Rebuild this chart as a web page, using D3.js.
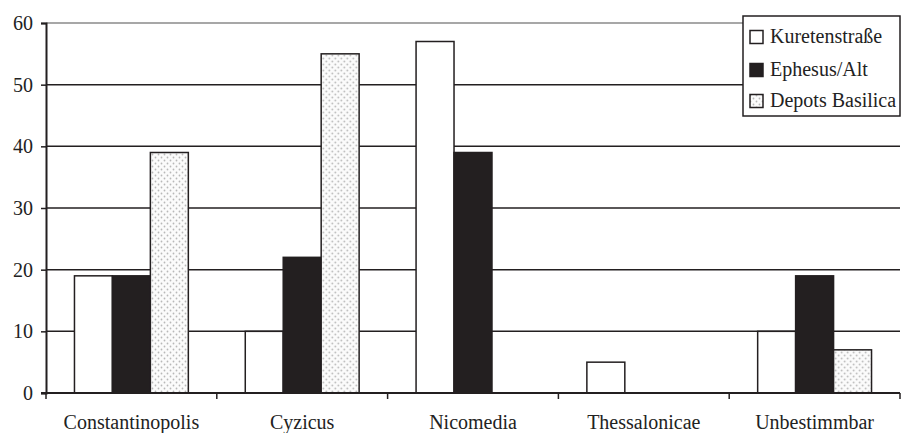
<!DOCTYPE html>
<html>
<head>
<meta charset="utf-8">
<script src="https://cdn.jsdelivr.net/npm/d3@7"></script>
<style>
  html, body { margin: 0; padding: 0; background: #fff; }
  svg { display: block; }
</style>
</head>
<body>
<svg id="chart" width="901" height="433"></svg>
<script>
// Fundorte (Münzstätten) and counts per find group
const categories = ["Constantinopolis", "Cyzicus", "Nicomedia", "Thessalonicae", "Unbestimmbar"];
const seriesNames = ["Kuretenstraße", "Ephesus/Alt", "Depots Basilica"];
const kuretenstrasse = [19, 10, 57, 5, 10];
const ephesusAlt = [19, 22, 39, 0, 19];
const depotsBasilica = [39, 55, 0, 0, 7];
const yTicks = [0, 10, 20, 30, 40, 50, 60];

const seriesValues = [kuretenstrasse, ephesusAlt, depotsBasilica];
const FONT = "'Liberation Serif', Tinos, 'Times New Roman', serif";
const FS = 20;

const svg = d3.select("#chart");
const margin = { left: 46, right: 1, top: 23, bottom: 40 };
const W = 901, H = 433;

// dotted fill for the third series
const defs = svg.append("defs");
const pat = defs.append("pattern")
  .attr("id", "dots")
  .attr("patternUnits", "userSpaceOnUse")
  .attr("width", 6).attr("height", 6);
pat.append("rect").attr("width", 6).attr("height", 6).attr("fill", "#fbfbfb");
pat.append("circle").attr("cx", 1.5).attr("cy", 1.5).attr("r", 0.9).attr("fill", "#b8b8b8");
pat.append("circle").attr("cx", 4.5).attr("cy", 4.5).attr("r", 0.9).attr("fill", "#b8b8b8");

const x = d3.scaleBand()
  .domain(categories)
  .range([margin.left, W - margin.right])
  .paddingInner(0).paddingOuter(0);

const x1 = d3.scaleBand()
  .domain(d3.range(seriesNames.length))
  .range([0, x.bandwidth()])
  .paddingOuter(0.75).paddingInner(0);

const y = d3.scaleLinear()
  .domain([0, 60])
  .range([H - margin.bottom, margin.top]);

const fills = ["#ffffff", "#231f20", "url(#dots)"];

// horizontal grid lines
svg.append("g")
  .selectAll("line")
  .data(yTicks.filter(d => d > 0))
  .join("line")
  .attr("x1", margin.left).attr("x2", W - margin.right)
  .attr("y1", d => y(d)).attr("y2", d => y(d))
  .attr("stroke", d => d === 60 ? "#8a8a8a" : "#231f20")
  .attr("stroke-width", 1.5);

// bars
const groups = svg.append("g")
  .selectAll("g")
  .data(categories)
  .join("g")
  .attr("transform", d => `translate(${x(d)},0)`);

groups.selectAll("rect")
  .data((c, i) => seriesValues.map((vals, s) => ({ s, v: vals[i] })).filter(d => d.v > 0))
  .join("rect")
  .attr("x", d => x1(d.s))
  .attr("width", x1.bandwidth())
  .attr("y", d => y(d.v))
  .attr("height", d => y(0) - y(d.v))
  .attr("fill", d => fills[d.s])
  .attr("stroke", "#231f20")
  .attr("stroke-width", 1.5);

// y axis
const yAxis = svg.append("g")
  .attr("transform", `translate(${margin.left},0)`)
  .call(d3.axisLeft(y).tickValues(yTicks).tickSize(5).tickPadding(8).tickFormat(d3.format("d")));
yAxis.attr("font-family", FONT).attr("font-size", FS);
yAxis.select(".domain").attr("stroke", "#231f20").attr("stroke-width", 2);
yAxis.selectAll(".tick line").attr("stroke", "#231f20").attr("stroke-width", 1.5);
yAxis.selectAll(".tick text").attr("fill", "#222");

// x axis with ticks at band boundaries
const xg = svg.append("g").attr("transform", `translate(0,${y(0)})`);
xg.append("line")
  .attr("x1", margin.left - 5).attr("x2", W - margin.right)
  .attr("stroke", "#231f20").attr("stroke-width", 2);
const bounds = categories.map(c => x(c)).concat([x(categories[categories.length - 1]) + x.bandwidth()]);
xg.selectAll("line.tk")
  .data(bounds)
  .join("line")
  .attr("class", "tk")
  .attr("x1", d => d).attr("x2", d => d)
  .attr("y1", 0).attr("y2", 6)
  .attr("stroke", "#231f20").attr("stroke-width", 1.5);
xg.selectAll("text")
  .data(categories)
  .join("text")
  .attr("x", d => x(d) + x.bandwidth() / 2)
  .attr("y", 35.5)
  .attr("text-anchor", "middle")
  .attr("font-family", FONT)
  .attr("font-size", FS)
  .attr("fill", "#222")
  .text(d => d);

// legend
const lg = svg.append("g").attr("transform", "translate(743,16)");
lg.append("rect")
  .attr("width", 157).attr("height", 100)
  .attr("fill", "#fff").attr("stroke", "#231f20").attr("stroke-width", 1.5);
const rowCenters = [21, 54, 85];
seriesNames.forEach((name, i) => {
  const cy = rowCenters[i];
  lg.append("rect")
    .attr("x", 7).attr("y", cy - 6.5).attr("width", 13).attr("height", 13)
    .attr("fill", fills[i]).attr("stroke", "#231f20").attr("stroke-width", 1.5);
  lg.append("text")
    .attr("x", 27).attr("y", cy + 6)
    .attr("font-family", FONT)
    .attr("font-size", FS)
    .attr("fill", "#222")
    .text(name);
});
</script>
</body>
</html>
